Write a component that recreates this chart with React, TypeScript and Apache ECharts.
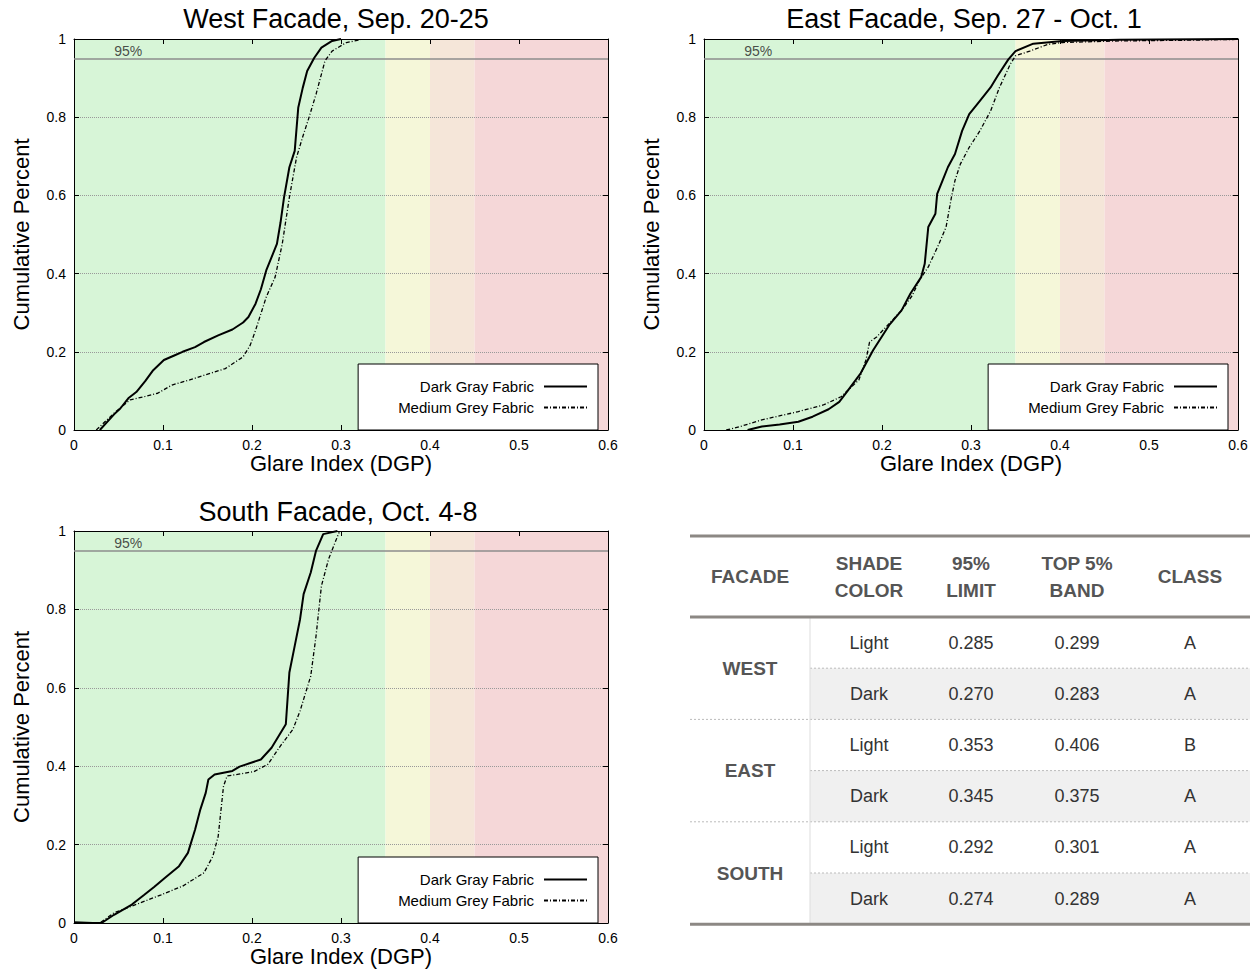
import React, { useEffect, useRef } from "react";
import * as echarts from "echarts";

const FONT = "'Liberation Sans', Arial, Helvetica, sans-serif";

// ---------- data ----------
const panelTitles = ["West Facade, Sep. 20-25", "East Facade, Sep. 27 - Oct. 1", "South Facade, Oct. 4-8"];
const seriesNames = ["Dark Gray Fabric", "Medium Grey Fabric"];
const xAxisName = "Glare Index (DGP)";
const yAxisName = "Cumulative Percent";

const westDarkGray: number[][] = [
  [0.029, 0], [0.045, 0.04], [0.052, 0.055], [0.061, 0.081], [0.07, 0.097], [0.08, 0.125], [0.089, 0.153],
  [0.101, 0.179], [0.112, 0.19], [0.122, 0.2], [0.136, 0.212], [0.146, 0.225], [0.162, 0.242],
  [0.178, 0.257], [0.19, 0.275], [0.196, 0.289], [0.204, 0.323], [0.21, 0.36], [0.216, 0.408],
  [0.228, 0.476], [0.232, 0.53], [0.236, 0.595], [0.242, 0.672], [0.248, 0.714], [0.252, 0.825],
  [0.257, 0.875], [0.262, 0.918], [0.27, 0.952], [0.278, 0.978], [0.29, 0.995], [0.3, 1.0],
];
const westMediumGrey: number[][] = [
  [0.025, 0], [0.045, 0.043], [0.063, 0.077], [0.08, 0.086], [0.094, 0.094], [0.11, 0.115], [0.13, 0.128],
  [0.146, 0.14], [0.17, 0.157], [0.19, 0.187], [0.198, 0.217], [0.204, 0.255], [0.216, 0.34],
  [0.226, 0.391], [0.234, 0.476], [0.242, 0.595], [0.25, 0.697], [0.257, 0.75], [0.264, 0.799],
  [0.272, 0.859], [0.282, 0.944], [0.29, 0.969], [0.306, 0.991], [0.322, 0.998],
];
const eastDarkGray: number[][] = [
  [0.049, 0], [0.065, 0.009], [0.085, 0.014], [0.106, 0.021], [0.122, 0.034], [0.14, 0.053], [0.152, 0.072],
  [0.162, 0.102], [0.176, 0.145], [0.19, 0.204], [0.208, 0.268], [0.222, 0.306], [0.232, 0.349],
  [0.244, 0.391], [0.248, 0.425], [0.252, 0.519], [0.26, 0.553], [0.262, 0.604], [0.268, 0.638],
  [0.274, 0.672], [0.282, 0.706], [0.29, 0.765], [0.298, 0.808], [0.31, 0.842], [0.322, 0.876],
  [0.33, 0.906], [0.342, 0.948], [0.35, 0.969], [0.37, 0.988], [0.403, 0.995], [0.467, 0.998], [0.6, 1.0],
];
const eastMediumGrey: number[][] = [
  [0.025, 0], [0.041, 0.009], [0.065, 0.026], [0.106, 0.047], [0.134, 0.064], [0.154, 0.085], [0.174, 0.128],
  [0.182, 0.179], [0.186, 0.225], [0.194, 0.238], [0.208, 0.272], [0.222, 0.306], [0.234, 0.344],
  [0.242, 0.383], [0.252, 0.417], [0.264, 0.476], [0.272, 0.519], [0.278, 0.595], [0.282, 0.638],
  [0.288, 0.68], [0.298, 0.723], [0.31, 0.765], [0.322, 0.816], [0.332, 0.876], [0.344, 0.935],
  [0.35, 0.957], [0.366, 0.969], [0.386, 0.986], [0.403, 0.991], [0.467, 0.995], [0.547, 0.997], [0.6, 0.999],
];
const southDarkGray: number[][] = [
  [0, 0.002], [0.021, 0], [0.031, 0], [0.045, 0.021], [0.065, 0.047], [0.079, 0.072], [0.09, 0.092],
  [0.102, 0.115], [0.118, 0.145], [0.128, 0.179], [0.136, 0.238], [0.142, 0.29], [0.148, 0.332],
  [0.151, 0.366], [0.158, 0.379], [0.178, 0.388], [0.186, 0.399], [0.21, 0.417], [0.222, 0.447],
  [0.238, 0.507], [0.242, 0.639], [0.248, 0.707], [0.254, 0.775], [0.258, 0.839], [0.266, 0.894],
  [0.272, 0.95], [0.28, 0.992], [0.296, 1.0],
];
const southMediumGrey: number[][] = [
  [0, 0], [0.029, 0], [0.045, 0.026], [0.065, 0.043], [0.098, 0.072], [0.122, 0.094], [0.146, 0.128],
  [0.156, 0.17], [0.162, 0.221], [0.168, 0.349], [0.172, 0.375], [0.202, 0.386], [0.218, 0.405],
  [0.232, 0.452], [0.246, 0.494], [0.254, 0.541], [0.266, 0.63], [0.272, 0.733], [0.278, 0.86],
  [0.286, 0.928], [0.292, 0.963], [0.298, 0.997],
];
const panelData = [
  [westDarkGray, westMediumGrey],
  [eastDarkGray, eastMediumGrey],
  [southDarkGray, southMediumGrey],
];

const bandEdges = [0, 0.35, 0.4, 0.45, 0.6];
const bandColors = ["#d7f5d7", "#f5f7d9", "#f5e6d9", "#f5d7d8"];
const limitLevel = 0.95;
const limitLabel = "95%";
const limitLabelX = 0.061;

const tableHeaders = [["FACADE"], ["SHADE", "COLOR"], ["95%", "LIMIT"], ["TOP 5%", "BAND"], ["CLASS"]];
const facades = ["WEST", "EAST", "SOUTH"];
const shadeColors = ["Light", "Dark", "Light", "Dark", "Light", "Dark"];
const limits95 = ["0.285", "0.270", "0.353", "0.345", "0.292", "0.274"];
const top5Bands = ["0.299", "0.283", "0.406", "0.375", "0.301", "0.289"];
const classes = ["A", "A", "B", "A", "A", "A"];

// ---------- layout ----------
const panels = [
  { left: 74, top: 39, width: 534, height: 391, titleX: 336, titleY: 19, legendRight: 657, legendTop: 364 },
  { left: 704, top: 39, width: 534, height: 391, titleX: 964, titleY: 19, legendRight: 27, legendTop: 364 },
  { left: 74, top: 531, width: 534, height: 392, titleX: 338, titleY: 512, legendRight: 657, legendTop: 857 },
];
const tbl = { left: 690, right: 1250, top: 536, headBottom: 617, rowH: 51.2, divX: 810, cols: [750, 869, 971, 1077, 1190] };

function buildOption() {
  const grid: any[] = [];
  const xAxis: any[] = [];
  const yAxis: any[] = [];
  const series: any[] = [];
  const legend: any[] = [];
  const graphic: any[] = [];

  panels.forEach((p, i) => {
    grid.push({ left: p.left, top: p.top, width: p.width, height: p.height, containLabel: false });
    const axLine = { show: true, onZero: false, lineStyle: { color: "#000", width: 1 } };
    const tick = { show: true, inside: true, length: 5, lineStyle: { color: "#000", width: 1 } };
    xAxis.push({
      gridIndex: i, type: "value", min: 0, max: 0.6, interval: 0.1, position: "bottom", z: 3,
      axisLine: axLine, axisTick: tick,
      axisLabel: { color: "#000", fontSize: 14, fontFamily: FONT, margin: 8 },
      splitLine: { show: false },
      name: xAxisName, nameLocation: "middle", nameGap: 17,
      nameTextStyle: { color: "#000", fontSize: 22, fontFamily: FONT, verticalAlign: "top" },
    });
    xAxis.push({
      gridIndex: i, type: "value", min: 0, max: 0.6, interval: 0.1, position: "top", z: 3,
      axisLine: axLine, axisTick: tick, axisLabel: { show: false }, splitLine: { show: false },
    });
    yAxis.push({
      gridIndex: i, type: "value", min: 0, max: 1, interval: 0.2, position: "left", z: 3,
      axisLine: axLine, axisTick: tick,
      axisLabel: { color: "#000", fontSize: 14, fontFamily: FONT, margin: 8 },
      splitLine: { show: true, lineStyle: { color: "#999", width: 1, type: "dotted" } },
      name: yAxisName, nameLocation: "middle", nameGap: 42,
      nameTextStyle: { color: "#000", fontSize: 22, fontFamily: FONT },
    });
    yAxis.push({
      gridIndex: i, type: "value", min: 0, max: 1, interval: 0.2, position: "right", z: 3,
      axisLine: axLine, axisTick: tick, axisLabel: { show: false }, splitLine: { show: false },
    });

    const xi = 2 * i;
    const bands = bandColors.map((c, k) => [
      { xAxis: bandEdges[k], itemStyle: { color: c } },
      { xAxis: bandEdges[k + 1] },
    ]);
    series.push({
      type: "line", name: "bands" + i, xAxisIndex: xi, yAxisIndex: xi, data: [], silent: true, z: 1,
      markArea: { silent: true, data: bands },
      markLine: {
        silent: true, symbol: ["none", "none"], label: { show: false },
        lineStyle: { color: "#8c8c8c", width: 1.5, type: "solid" },
        data: [{ yAxis: limitLevel }],
      },
    });
    series.push({
      type: "scatter", name: "limit" + i, xAxisIndex: xi, yAxisIndex: xi, silent: true, z: 4,
      symbolSize: 0, data: [[limitLabelX, limitLevel]],
      label: { show: true, position: "top", distance: 1, formatter: limitLabel, color: "#222", fontSize: 14, fontFamily: FONT },
    });
    series.push({
      type: "line", name: seriesNames[0], xAxisIndex: xi, yAxisIndex: xi, data: panelData[i][0],
      symbol: "none", showSymbol: false, z: 6,
      lineStyle: { color: "#000", width: 2 }, itemStyle: { color: "#000" },
    });
    series.push({
      type: "line", name: seriesNames[1], xAxisIndex: xi, yAxisIndex: xi, data: panelData[i][1],
      symbol: "none", showSymbol: false, z: 5,
      lineStyle: { color: "#000", width: 1.3, type: [4, 2, 1, 2] }, itemStyle: { color: "#000" },
    });

    legend.push({
      data: seriesNames, orient: "vertical", align: "right", right: p.legendRight, top: p.legendTop,
      itemWidth: 43, itemHeight: 12, itemGap: 6, padding: [15, 10, 15, 40],
      backgroundColor: "#fff", borderColor: "#000", borderWidth: 1, borderRadius: 0,
      selectedMode: false, z: 10,
      itemStyle: { color: "rgba(0,0,0,0)", opacity: 0, borderWidth: 0 },
      textStyle: { color: "#000", fontSize: 15, fontFamily: FONT, padding: [0, 5, 0, 0] },
    });

    graphic.push({
      type: "text", x: p.titleX, y: p.titleY, z: 10,
      style: {
        text: panelTitles[i], fill: "#000", fontSize: 27, fontFamily: FONT,
        textAlign: "center", textVerticalAlign: "middle", align: "center", verticalAlign: "middle",
      },
    });
  });

  // ---------- table ----------
  const nRows = shadeColors.length;
  const bottom = tbl.headBottom + nRows * tbl.rowH;
  for (let r = 0; r < nRows; r++) {
    if (r % 2 === 1) {
      graphic.push({
        type: "rect", z: 1,
        shape: { x: tbl.divX, y: tbl.headBottom + r * tbl.rowH, width: tbl.right - tbl.divX, height: tbl.rowH },
        style: { fill: "#f0f0f0" },
      });
    }
  }
  for (let r = 1; r < nRows; r++) {
    const y = tbl.headBottom + r * tbl.rowH;
    graphic.push({
      type: "line", z: 2,
      shape: { x1: r % 2 === 0 ? tbl.left : tbl.divX, y1: y, x2: tbl.right, y2: y },
      style: { stroke: "#bbb", lineWidth: 1, lineDash: [2, 2] },
    });
  }
  graphic.push({
    type: "line", z: 2,
    shape: { x1: tbl.divX, y1: tbl.headBottom, x2: tbl.divX, y2: bottom },
    style: { stroke: "#dddddd", lineWidth: 1 },
  });
  [tbl.top, tbl.headBottom, bottom].forEach((y) => {
    graphic.push({
      type: "line", z: 3,
      shape: { x1: tbl.left, y1: y, x2: tbl.right, y2: y },
      style: { stroke: "#8c8884", lineWidth: 3 },
    });
  });
  const headMid = (tbl.top + tbl.headBottom) / 2;
  tableHeaders.forEach((lines, c) => {
    lines.forEach((t, k) => {
      const y = lines.length === 1 ? headMid : headMid + (k === 0 ? -13.5 : 13.5);
      graphic.push({
        type: "text", x: tbl.cols[c], y, z: 4,
        style: {
          text: t, fill: "#555", fontSize: 19, fontWeight: "bold", fontFamily: FONT,
          textAlign: "center", textVerticalAlign: "middle", align: "center", verticalAlign: "middle",
        },
      });
    });
  });
  facades.forEach((f, g) => {
    graphic.push({
      type: "text", x: tbl.cols[0], y: tbl.headBottom + (2 * g + 1) * tbl.rowH, z: 4,
      style: {
        text: f, fill: "#555", fontSize: 19, fontWeight: "bold", fontFamily: FONT,
        textAlign: "center", textVerticalAlign: "middle", align: "center", verticalAlign: "middle",
      },
    });
  });
  const bodyCols = [shadeColors, limits95, top5Bands, classes];
  bodyCols.forEach((col, c) => {
    col.forEach((t, r) => {
      graphic.push({
        type: "text", x: tbl.cols[c + 1], y: tbl.headBottom + (r + 0.5) * tbl.rowH, z: 4,
        style: {
          text: t, fill: "#333", fontSize: 18, fontFamily: FONT,
          textAlign: "center", textVerticalAlign: "middle", align: "center", verticalAlign: "middle",
        },
      });
    });
  });

  return {
    animation: false,
    backgroundColor: "#fff",
    textStyle: { fontFamily: FONT },
    grid, xAxis, yAxis, series, legend, graphic,
  };
}

export default function App() {
  const ref = useRef<HTMLDivElement>(null);
  useEffect(() => {
    if (!ref.current) return;
    const chart = echarts.init(ref.current, undefined, { renderer: "svg" });
    chart.setOption(buildOption() as any);
    return () => chart.dispose();
  }, []);
  return <div ref={ref} style={{ position: "absolute", left: 0, top: 0, width: 1255, height: 971 }} />;
}
